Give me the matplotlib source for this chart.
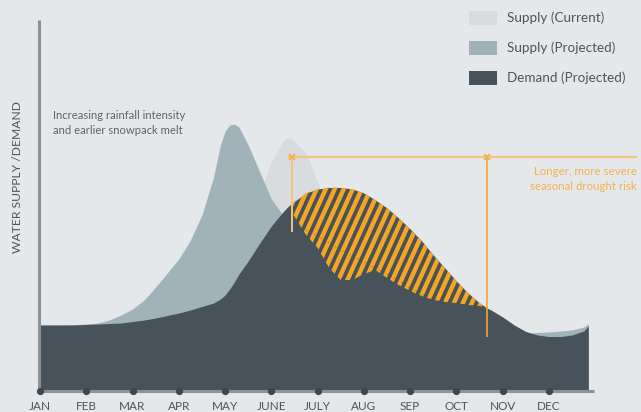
import numpy as np
import matplotlib
matplotlib.use("Agg")
from matplotlib import pyplot as plt
from matplotlib.collections import LineCollection

# month positions (0 = JAN) where the curves were read
months_x = np.array([0, 0.25, 0.5, 0.75, 1, 1.25, 1.5, 1.75, 2, 2.25, 2.5, 2.75,
                     3, 3.25, 3.5, 3.75, 3.9, 4, 4.1, 4.2, 4.3, 4.5, 4.75, 5,
                     5.25, 5.35, 5.45, 5.75, 6, 6.25, 6.5, 6.75, 7, 7.25, 7.5, 7.75,
                     8, 8.25, 8.5, 8.75, 9, 9.25, 9.5, 9.66, 9.75, 10, 10.25, 10.5,
                     10.75, 11, 11.25, 11.5, 11.75, 11.85])

# relative level of water supply / demand (arbitrary units)
demand_projected = [66, 66, 66, 66, 66.5, 67, 67.5, 68, 69.5, 71, 73, 75.5,
                    78, 81, 84.5, 88, 92, 96, 102, 109, 117, 130, 148, 165,
                    179, 184, 188, 198, 202, 203.5, 203.5, 202, 198, 191, 183, 173,
                    162, 150, 136, 123, 110, 98, 88, 83, 81, 74, 66, 59.5,
                    56, 54.5, 54.5, 56, 60, 65]
supply_projected = [66, 66, 66, 66.5, 67, 68, 71, 76, 82, 91, 104, 118,
                    132, 151, 176, 214, 246, 260, 266, 267, 264, 246, 219, 192,
                    176, 177, 178, 156, 143, 123, 111, 111, 117, 121, 113, 106,
                    100, 95, 91, 89, 88, 86, 85, 83, 80, 71, 63, 58,
                    58.5, 59, 60, 61, 64, 67]
supply_current = [66, 66, 66, 66, 66, 67, 68, 69, 71, 74, 78, 84,
                  93, 106, 123, 140, 150, 157, 163, 169, 175, 185, 198, 229,
                  250, 253, 252, 238, 209, 176, 146, 123, 106, 96, 91, 86,
                  81, 78, 75, 73, 71, 69, 68, 67, 66, 64, 61, 56,
                  53, 52, 52, 54, 58, 63]

# faint dashed trace inside the drought band
trace_x = [5.75, 6, 6.25, 6.5, 6.75, 7, 7.25, 7.5, 7.75, 8, 8.25, 8.5, 8.75,
           9, 9.25, 9.5, 9.66]
trace_y = [161, 155, 148, 141, 135, 129, 123, 117, 110, 103, 97, 92, 89,
           87, 86, 85, 84]

drought_start = 5.45
drought_end = 9.66
drought_level = 234

month_labels = ["JAN", "FEB", "MAR", "APR", "MAY", "JUNE", "JULY", "AUG",
                "SEP", "OCT", "NOV", "DEC"]

bg = "#e5e8eb"
c_current = "#d9dcdf"
c_proj = "#a0b3b9"
c_demand = "#48525b"
c_orange = "#f5a623"
c_orange_light = "#f3c47e"
c_axis = "#8f9194"
c_text = "#4d545b"

plt.rcParams['font.family'] = ['Lato', 'DejaVu Sans']

W, H = 641, 412
fig = plt.figure(figsize=(W / 100, H / 100), dpi=100, facecolor=bg)
ax = fig.add_axes([0, 0, 1, 1], facecolor=bg)
xmin, xmax = -0.8645, 12.989
ymin, ymax = -21, 391
ax.set_xlim(xmin, xmax)
ax.set_ylim(ymin, ymax)
for s in ax.spines.values():
    s.set_visible(False)
ax.set_xticks([])
ax.set_yticks([])

# areas
ax.fill_between(months_x, 0, supply_current, color=c_current, lw=0, label="Supply (Current)")
ax.fill_between(months_x, 0, supply_projected, color=c_proj, lw=0, label="Supply (Projected)")
ax.fill_between(months_x, 0, demand_projected, color=c_demand, lw=0, label="Demand (Projected)")

# drought band = demand above projected supply, inside the window
mask = (months_x >= drought_start) & (months_x <= drought_end)
band = ax.fill_between(months_x, supply_projected, demand_projected, where=mask,
                       facecolor="none", edgecolor="none")

# diagonal stripes clipped to the band
sx = W / (xmax - xmin)      # px per month
sy = H / (ymax - ymin)      # px per unit
slope = 2.2                 # px up per px right
segs = []
h0, h1 = 40, 230
for xp in np.arange(4.0 * sx, 10.5 * sx, 9.0):
    x0 = xp / sx
    x1 = x0 + (h1 - h0) * sy / slope / sx
    segs.append([(x0, h0), (x1, h1)])
stripes = LineCollection(segs, colors=c_orange, linewidths=3.2, capstyle="butt")
ax.add_collection(stripes)
stripes.set_clip_path(band.get_paths()[0], ax.transData)

ax.plot(trace_x, trace_y, color="#6b5a3a", lw=0.6, ls=(0, (2, 3)), alpha=0.6)

# drought window markers
ax.plot([5.36, 12.9], [drought_level, drought_level], color=c_orange_light, lw=1.6,
        solid_capstyle="butt")
ax.plot([drought_start, drought_start], [159, drought_level + 2], color=c_orange_light,
        lw=1.4, solid_capstyle="butt")
ax.plot([drought_end, drought_end], [54, drought_level + 2], color=c_orange, lw=1.2,
        solid_capstyle="butt")
ax.plot([drought_start, drought_end], [drought_level, drought_level], ls="none",
        marker="x", ms=4, mew=1.2, color="#eeb04e")

# axes lines and month dots
ax.plot([-0.02, -0.02], [0, 371], color=c_axis, lw=2.2, solid_capstyle="butt")
ax.plot([-0.04, 11.97], [0, 0], color=c_axis, lw=2.2, solid_capstyle="butt")
ax.plot(np.arange(12), np.zeros(12), ls="none", marker="o", ms=4.2, color="#3f464d")
for i, lab in enumerate(month_labels):
    ax.text(i, -15, lab, ha="center", va="center", fontsize=8.5, color=c_text)

ax.text(-0.497, 214, "WATER SUPPLY /DEMAND", rotation=90, ha="center", va="center",
        fontsize=8.7, color=c_text)

ax.text(0.281, 268, "Increasing rainfall intensity\nand earlier snowpack melt",
        ha="left", va="center", fontsize=8.1, color="#5d646b", linespacing=1.35)
ax.text(12.9, 212, "Longer, more severe\nseasonal drought risk", ha="right",
        va="center", fontsize=8.3, color="#f1b250", linespacing=1.35)

leg = ax.legend(loc="upper left", bbox_to_anchor=(469 / W, 1 - 11 / H),
                bbox_transform=fig.transFigure, frameon=False, fontsize=9.7,
                handlelength=2.05, handleheight=1.2, handletextpad=0.78,
                labelspacing=1.2, borderpad=0, borderaxespad=0)
for t in leg.get_texts():
    t.set_color(c_text)

fig.savefig("out.png", dpi=100, facecolor=bg)
